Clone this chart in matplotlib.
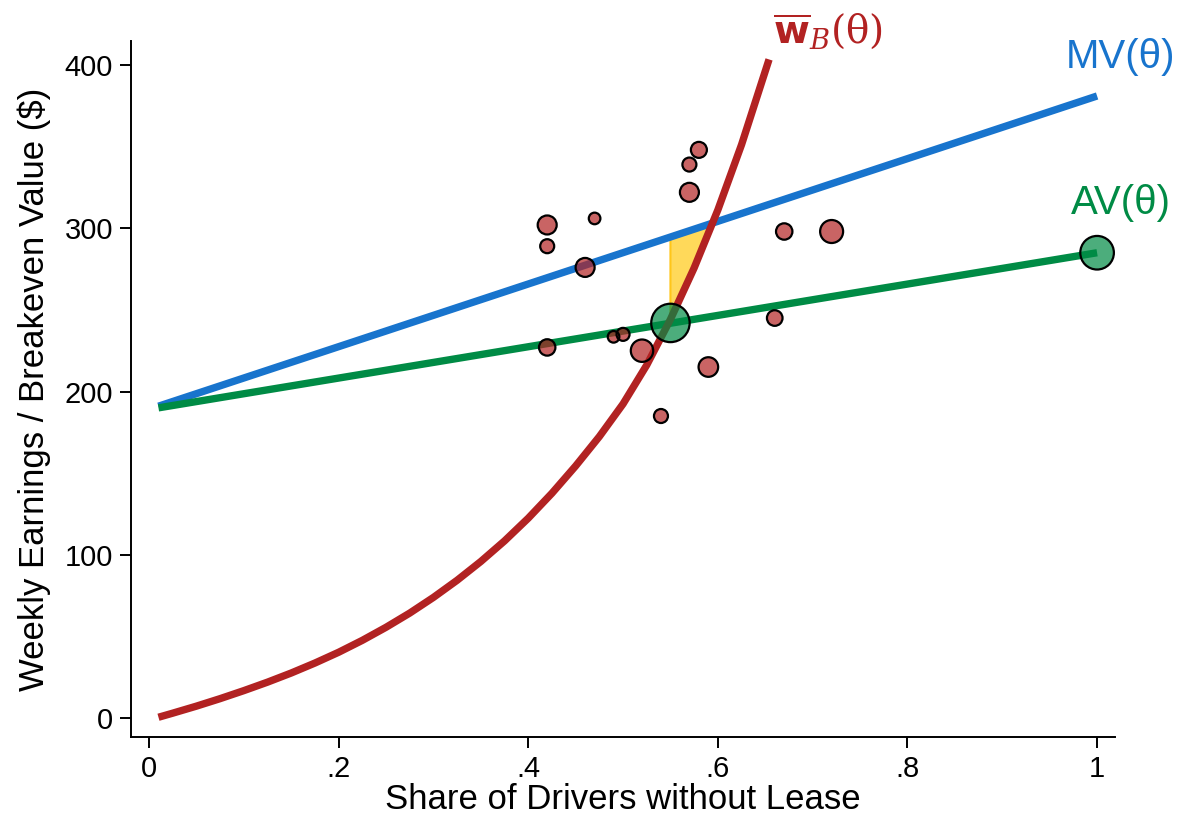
# breakeven_lease.py
# weekly earnings vs share of drivers without lease, with MV / AV lines and breakeven curve

import matplotlib.pyplot as plt

plt.rcParams["font.family"] = ["Liberation Sans", "DejaVu Sans"]
plt.rcParams["mathtext.fontset"] = "custom"
plt.rcParams["mathtext.rm"] = "DejaVu Serif"
plt.rcParams["mathtext.it"] = "DejaVu Serif:italic"
plt.rcParams["mathtext.bf"] = "DejaVu Sans:bold"

# breakeven curve w_B(theta)
wb_x = [0.01, 0.025, 0.05, 0.075, 0.10, 0.125, 0.15, 0.175, 0.20, 0.225, 0.25,
        0.275, 0.30, 0.325, 0.35, 0.375, 0.40, 0.425, 0.45, 0.475, 0.50, 0.525,
        0.55, 0.575, 0.60, 0.625, 0.654]
wb_y = [0.5, 3.0, 7.3, 11.9, 16.8, 22.0, 27.6, 33.7, 40.3, 47.6, 55.6,
        64.3, 73.9, 84.4, 95.9, 108.5, 122.4, 137.7, 154.4, 172.4, 192.4, 216.2,
        244.2, 275.7, 311.2, 351.2, 403.4]

# marginal and average value lines (endpoints)
mv_x = [0.01, 1.0]
mv_y = [191, 381]
av_x = [0.01, 1.0]
av_y = [190, 285]

# yellow wedge between MV and w_B
wedge_x = [0.55, 0.55, 0.597, 0.575]
wedge_y = [244, 295, 303.6, 275.7]

# market observations
obs_x = [0.58, 0.57, 0.57, 0.42, 0.47, 0.42, 0.46, 0.67, 0.72, 0.42, 0.49, 0.50, 0.52, 0.66, 0.59, 0.54]
obs_y = [348, 339, 322, 302, 306, 289, 276, 298, 298, 227, 233.5, 235, 225, 245, 215, 185]
obs_r = [8.5, 7.5, 10, 10, 6.3, 7.5, 10, 8.7, 12, 8.7, 6.3, 7, 11.7, 8.3, 10.3, 7.5]

# equilibrium points on AV line
eq_x = [0.55, 1.0]
eq_y = [242, 285]
eq_r = [19.7, 17.3]


def area(radii):
    # pixel radius (incl. edge) -> scatter area in pt^2
    return [((2 * r - 1) * 0.72) ** 2 for r in radii]


def main():
    fig = plt.figure(figsize=(11.8, 8.16), dpi=100)
    ax = fig.add_axes([0.111, 0.0968, 0.834, 0.853])

    ax.fill(wedge_x, wedge_y, facecolor="#FFD95A", edgecolor="#FFC61A", lw=1.5, zorder=1)

    ax.plot(mv_x, mv_y, c="#1874CD", lw=5.3, solid_capstyle="butt", zorder=2)
    ax.plot(av_x, av_y, c="#008B45", lw=5.3, solid_capstyle="butt", zorder=2)
    ax.plot(wb_x, wb_y, c="#B22222", lw=5.3, solid_capstyle="butt",
            solid_joinstyle="round", zorder=3)

    ax.scatter(obs_x, obs_y, s=area(obs_r), c="#B22222", alpha=0.7,
               edgecolors="none", zorder=4)
    ax.scatter(obs_x, obs_y, s=area(obs_r), facecolors="none",
               edgecolors="black", linewidths=1.6, zorder=5)
    ax.scatter(eq_x, eq_y, s=area(eq_r), c="#008B45", alpha=0.7,
               edgecolors="none", zorder=4)
    ax.scatter(eq_x, eq_y, s=area(eq_r), facecolors="none",
               edgecolors="black", linewidths=1.6, zorder=5)

    ax.text(1.025, 398, "MV(θ)", color="#1874CD", fontsize=29,
            ha="center", va="baseline", clip_on=False)
    ax.text(1.025, 309, "AV(θ)", color="#008B45", fontsize=29,
            ha="center", va="baseline", clip_on=False)
    ax.text(0.658, 413.5, r"$\overline{\mathbf{w}}_{B}(\mathrm{\theta})$", color="#B22222",
            fontsize=28, ha="left", va="baseline", clip_on=False)

    ax.set_xlim(-0.019, 1.019)
    ax.set_ylim(-11.6, 414.7)
    ax.set_xticks([0, 0.2, 0.4, 0.6, 0.8, 1.0])
    ax.set_xticklabels(["0", ".2", ".4", ".6", ".8", "1"])
    ax.set_yticks([0, 100, 200, 300, 400])
    ax.tick_params(labelsize=21, length=8, width=1.4, direction="out", pad=5)

    for side in ["top", "right"]:
        ax.spines[side].set_visible(False)
    for side in ["left", "bottom"]:
        ax.spines[side].set_linewidth(1.4)

    ax.set_xlabel("Share of Drivers without Lease", fontsize=25, labelpad=0)
    ax.set_ylabel("Weekly Earnings / Breakeven Value ($)", fontsize=25, labelpad=10)

    fig.savefig("out.png", dpi=100)


main()
